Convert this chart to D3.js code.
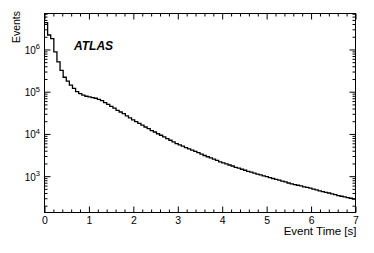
<!DOCTYPE html>
<html>
<head>
<meta charset="utf-8">
<script src="https://cdn.jsdelivr.net/npm/d3@7"></script>
<style>
  body { margin: 0; background: #fff; }
  svg { display: block; font-family: "Liberation Sans", Arial, sans-serif; }
</style>
</head>
<body>
<svg id="chart"></svg>
<script>
// histogram: 100 bins of 0.07 s from 0 to 7 s
const binEdges = [0, 7];
const binCount = 100;
const eventCounts = [
  4300000, 2200000, 1800000, 880000, 510000, 320000, 220000, 178000, 143000, 120000,
  100000, 90000, 83000, 78000, 75000, 72400, 70000, 66100, 61700, 55000,
  50100, 44700, 40700, 36300, 33100, 30200, 26900, 24000, 21600, 19500,
  17800, 16200, 14600, 13300, 12000, 11100, 10100, 9300, 8500, 7760,
  7080, 6460, 5890, 5500, 5130, 4730, 4420, 4120, 3850, 3590,
  3310, 3090, 2880, 2720, 2540, 2370, 2190, 2070, 1950, 1840,
  1740, 1620, 1550, 1460, 1380, 1300, 1245, 1175, 1120, 1070,
  1020, 980, 920, 880, 840, 805, 765, 735, 690, 660,
  630, 610, 590, 560, 540, 520, 495, 475, 450, 430,
  415, 400, 380, 365, 345, 335, 325, 310, 300, 285
];
const xTickLabels = [0, 1, 2, 3, 4, 5, 6, 7];
const yTickValues = [1e3, 1e4, 1e5, 1e6];
const yDomain = [138, 7.1e6];

const width = 374;
const height = 253;
const mLeft = 44.5, mRight = 355.5, mTop = 13.5, mBottom = 212.5;

const svg = d3.select("#chart").attr("width", width).attr("height", height);

const x = d3.scaleLinear().domain(binEdges).range([mLeft, mRight]);
const y = d3.scaleLog().domain(yDomain).range([mBottom, mTop]);

// minor ticks
const xMinor = d3.range(0, 35).map(i => i * 0.2).filter(v => Math.abs(v - Math.round(v)) > 1e-6);
const yMinor = [];
for (let e = 2; e <= 6; e++) {
  for (let m = 2; m <= 9; m++) {
    const v = m * Math.pow(10, e);
    if (v > yDomain[0] && v < yDomain[1]) yMinor.push(v);
  }
}

function styleAxis(g) {
  g.select(".domain").remove();
  g.selectAll("line").attr("stroke", "#000").attr("stroke-width", 1);
  g.selectAll("text").attr("fill", "#000").attr("font-size", 10.5);
}

// x axes (bottom with labels, top mirrored)
svg.append("g").attr("transform", `translate(0,${mBottom})`)
   .call(d3.axisBottom(x).tickValues(xTickLabels).tickSize(-6).tickPadding(4.5).tickFormat(d3.format("d")))
   .call(styleAxis);
svg.append("g").attr("transform", `translate(0,${mBottom})`)
   .call(d3.axisBottom(x).tickValues(xMinor).tickSize(-3).tickFormat(""))
   .call(styleAxis);
svg.append("g").attr("transform", `translate(0,${mTop})`)
   .call(d3.axisTop(x).tickValues(xTickLabels).tickSize(-6).tickFormat(""))
   .call(styleAxis);
svg.append("g").attr("transform", `translate(0,${mTop})`)
   .call(d3.axisTop(x).tickValues(xMinor).tickSize(-3).tickFormat(""))
   .call(styleAxis);

// y axes (left with labels, right mirrored)
const yAxisG = svg.append("g").attr("transform", `translate(${mLeft},0)`)
   .call(d3.axisLeft(y).tickValues(yTickValues).tickSize(-6).tickFormat(""))
   .call(styleAxis);
yAxisG.selectAll(".tick").each(function(d) {
  const t = d3.select(this).select("text").text("10")
    .attr("font-size", 10).attr("dy", "0.4em").attr("x", -4.5);
  t.append("tspan").text(Math.round(Math.log10(d))).attr("font-size", 7.5).attr("dy", "-0.6em");
});
svg.append("g").attr("transform", `translate(${mLeft},0)`)
   .call(d3.axisLeft(y).tickValues(yMinor).tickSize(-3).tickFormat(""))
   .call(styleAxis);
svg.append("g").attr("transform", `translate(${mRight},0)`)
   .call(d3.axisRight(y).tickValues(yTickValues).tickSize(-6).tickFormat(""))
   .call(styleAxis);
svg.append("g").attr("transform", `translate(${mRight},0)`)
   .call(d3.axisRight(y).tickValues(yMinor).tickSize(-3).tickFormat(""))
   .call(styleAxis);

// frame
svg.append("rect")
   .attr("x", mLeft).attr("y", mTop)
   .attr("width", mRight - mLeft).attr("height", mBottom - mTop)
   .attr("fill", "none").attr("stroke", "#000").attr("stroke-width", 1);

// histogram outline
const binWidth = (binEdges[1] - binEdges[0]) / binCount;
const pts = eventCounts.map((c, i) => [binEdges[0] + i * binWidth, c]);
pts.push([binEdges[1], eventCounts[eventCounts.length - 1]]);
const line = d3.line().x(d => x(d[0])).y(d => y(d[1])).curve(d3.curveStepAfter);
svg.append("path")
   .attr("d", line(pts))
   .attr("fill", "none")
   .attr("stroke", "#000")
   .attr("stroke-width", 1.3);

// labels
svg.append("text")
   .attr("x", mRight + 1).attr("y", 235)
   .attr("text-anchor", "end")
   .attr("font-size", 11.5)
   .text("Event Time [s]");

svg.append("text")
   .attr("transform", "translate(19.5,11) rotate(-90)")
   .attr("text-anchor", "end")
   .attr("font-size", 10.5)
   .text("Events");

svg.append("text")
   .attr("x", 74).attr("y", 50)
   .attr("font-size", 12)
   .attr("font-weight", "bold")
   .attr("font-style", "italic")
   .text("ATLAS");
</script>
</body>
</html>
